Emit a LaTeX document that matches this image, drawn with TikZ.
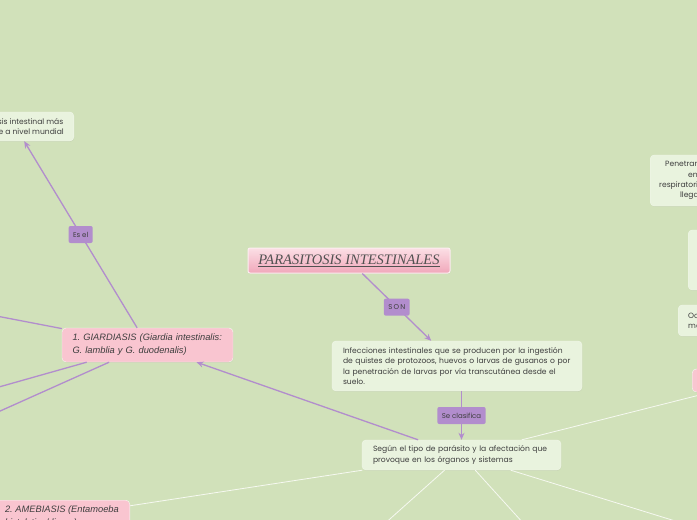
\documentclass[tikz,border=0pt]{standalone}
\usepackage{fontspec}
\setmainfont{Liberation Serif}
\newfontfamily\rndfont{Poppins}
\newfontfamily\arfont{Liberation Sans}
\usetikzlibrary{shadows,arrows.meta}
\definecolor{fondo}{RGB}{209,225,186}
\definecolor{hoja}{RGB}{233,243,222}
\definecolor{rosa}{RGB}{249,197,208}
\definecolor{lila}{RGB}{178,141,205}
\definecolor{tinta}{RGB}{62,62,62}
\begin{document}
\frenchspacing
\begin{tikzpicture}[x=1pt,y=-1pt,
    hoja/.style={draw=white!40!hoja,fill=hoja,rounded corners=4pt,text=tinta,align=left,
      font=\rndfont\fontsize{7.6}{10.4}\selectfont,inner ysep=0pt,
      drop shadow={opacity=0.12,shadow xshift=0.4pt,shadow yshift=-0.8pt}},
    rosabox/.style={draw=white!70!hoja,fill=rosa,rounded corners=4pt,text=tinta,align=left,
      font=\arfont\itshape\fontsize{9.3}{13}\selectfont,inner ysep=0pt,
      drop shadow={opacity=0.12,shadow xshift=0.4pt,shadow yshift=-0.8pt}},
    etiq/.style={fill=lila,rounded corners=2pt,text=tinta,inner xsep=4.5pt,inner ysep=0pt,
      minimum height=17pt,font=\rndfont\fontsize{7}{7}\selectfont},
    flecha/.style={draw=lila,line width=1.3pt,-{Stealth[length=7pt,width=6pt]}},
    rama/.style={draw=white!80!fondo,line width=0.8pt}]
  \fill[fondo](0,0)rectangle(697,520);
  \useasboundingbox(0,0)rectangle(697,520);
  % centro
  \node[draw=white!70!rosa,line width=1pt,top color=rosa!55!white,bottom color=rosa!85!purple,
    rounded corners=2pt,minimum width=202pt,minimum height=25pt,text=tinta!90!white,
    font=\itshape\fontsize{14.5}{14.5}\selectfont,
    drop shadow={opacity=0.12,shadow xshift=0.4pt,shadow yshift=-0.8pt}]
    (tit) at (349,260.5) {\underline{PARASITOSIS INTESTINALES}};
  \node[hoja,text width=228pt,inner xsep=11pt,minimum height=50pt](inf) at (457,366)
    {Infecciones intestinales que se producen por la ingestión\\
     de quistes de protozoos, huevos o larvas de gusanos o por\\
     la penetración de larvas por vía transcutánea desde el\\ suelo.};
  \node[hoja,text width=177pt,inner xsep=11pt,minimum height=30pt](seg) at (461.5,455)
    {Según el tipo de parásito y la afectación que\\ provoque en los órganos y sistemas};
  % tipos
  \node[rosabox,text width=160pt,inner xsep=5.5pt,minimum height=34pt](giar) at (147.5,345)
    {\hspace*{5pt}1. GIARDIASIS (Giardia intestinalis:\\ \hspace*{5pt}G. lamblia y G. duodenalis)};
  \node[rosabox,anchor=north east,inner xsep=11pt,minimum height=32pt](ameb) at (130,500)
    {2. AMEBIASIS (Entamoeba\\ histolytica/dispar)};
  \node[rosabox,anchor=west,minimum width=130pt,minimum height=23pt](rosader) at (692,380.5) {};
  % hojas sueltas
  \node[hoja,anchor=east,inner xsep=10pt,minimum height=29pt](mund) at (74,126.5)
    {Parasitosis intestinal más\\ frecuente a nivel mundial};
  \node[hoja,anchor=west,align=center,inner xsep=9pt,minimum height=51pt](pene) at (650,180.5)
    {Penetran por la piel, pasan\\ en los alvéolos\\ respiratorios, son deglutidos y\\ llegan del intestino};
  \node[hoja,anchor=west,minimum width=120pt,minimum height=60pt](vacia) at (688,260) {};
  \node[hoja,anchor=west,inner xsep=10pt,minimum height=31pt](ocas) at (678,320.5)
    {Ocasionan anemia y\\ malnutrición};
  \coordinate (g1) at (-40,309);
  \coordinate (g2) at (-40,398);
  \coordinate (g3) at (-40,429);
  \coordinate (s1) at (372,535);
  \coordinate (s2) at (534,535);
  \coordinate (s3) at (740,541);
  % ramas
  \draw[rama](seg)--(ameb);
  \draw[rama](seg)--(s1);
  \draw[rama](seg)--(s2);
  \draw[rama](seg)--(s3);
  \draw[rama](seg)--(rosader);
  % flechas
  \draw[flecha](tit)--node[etiq]{S\,O\,N}(inf);
  \draw[flecha](inf.south -| seg.north)--node[etiq]{Se clasifica}(seg.north);
  \draw[flecha](seg)--(giar);
  \draw[flecha](giar)--node[etiq]{Es el}(mund);
  \draw[flecha](giar)--(g1);
  \draw[flecha](giar)--(g2);
  \draw[flecha](giar)--(g3);
\end{tikzpicture}
\end{document}
